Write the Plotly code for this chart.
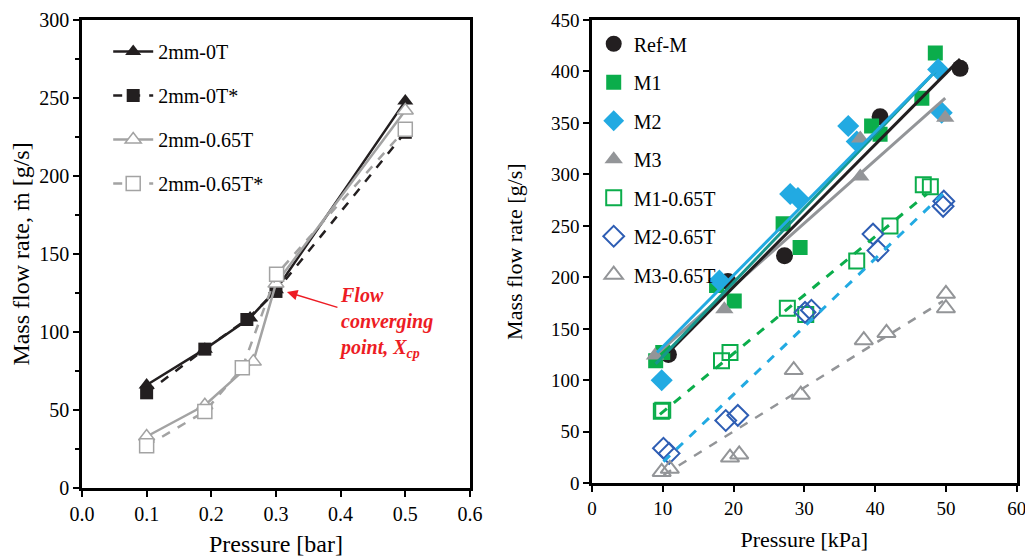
import plotly.graph_objects as go

# ---------------- Left panel data (Pressure [bar] vs mass flow rate [g/s]) -------------
a_names = ["2mm-0T", "2mm-0T*", "2mm-0.65T", "2mm-0.65T*"]
a1_x = [0.1, 0.19, 0.26, 0.3, 0.5]
a1_y = [66, 89, 109, 127, 248]
a2_x = [0.1, 0.19, 0.255, 0.3, 0.5]
a2_y = [61, 89, 108, 126, 228]
a3_x = [0.1, 0.19, 0.265, 0.3, 0.5]
a3_y = [33, 53, 81, 131, 242]
a4_x = [0.1, 0.19, 0.248, 0.301, 0.5]
a4_y = [27, 49, 77, 137, 230]

# ---------------- Right panel data (Pressure [kPa] vs mass flow rate [g/s]) -------------
refm_x = [10.8, 19.2, 27.2, 40.7, 52.0]
refm_y = [125, 196, 221, 356, 403]
m1_x = [9.0, 10.0, 17.6, 20.1, 27.0, 29.4, 39.5, 40.7, 46.6, 48.5]
m1_y = [119, 127, 192, 177, 252, 229, 347, 339, 374, 418]
m2_x = [9.85, 18.0, 28.0, 29.1, 36.2, 37.4, 48.9, 49.4]
m2_y = [100, 197, 281, 277, 347, 332, 402, 360]
m3_x = [8.9, 18.7, 37.9, 37.9, 49.9]
m3_y = [124, 169, 335, 298, 355]
m1t_x = [9.8, 10.0, 18.3, 19.5, 27.6, 30.2, 37.4, 42.1, 46.8, 47.8]
m1t_y = [70, 71, 119, 127, 170, 164, 216, 250, 290, 288]
m2t_x = [10.1, 10.9, 18.9, 20.6, 30.1, 31.0, 39.7, 40.4, 49.6, 49.7]
m2t_y = [34, 29, 61, 66, 166, 168, 242, 226, 269, 274]
m3t_x = [9.85, 11.0, 19.5, 20.8, 28.5, 29.5, 38.4, 41.6, 50.0, 50.0]
m3t_y = [11, 14, 25, 28, 110, 86, 139, 146, 184, 170]

# Linear trend lines (end points)
refm_fit_x = [10.8, 52.0]
refm_fit_y = [127, 412]
m1_fit_x = [9.0, 48.5]
m1_fit_y = [116, 400]
m2_fit_x = [9.2, 49.2]
m2_fit_y = [127, 405]
m3_fit_x = [8.6, 49.9]
m3_fit_y = [122, 374]
m1t_fit_x = [9.6, 47.3]
m1t_fit_y = [67, 281]
m2t_fit_x = [10.1, 49.7]
m2t_fit_y = [21, 282]
m3t_fit_x = [10.1, 49.6]
m3t_fit_y = [8, 177]

FONT = "Liberation Serif, DejaVu Serif, serif"
BLACK = "#231F20"
LGRAY = "#A3A3A3"
GREEN = "#0BAD4B"
BLUE = "#22AAE2"
GRAY = "#939598"
DBLUE = "#2F5EB4"
TEAL = "#17968C"
RED = "#ED1C24"

fig = go.Figure()

# ----- left panel traces -----
left_specs = [
    (a1_x, a1_y, BLACK, "solid", dict(symbol="triangle-up", size=14, color=BLACK)),
    (a2_x, a2_y, BLACK, "dash", dict(symbol="square", size=13, color=BLACK)),
    (a3_x, a3_y, LGRAY, "solid", dict(symbol="triangle-up", size=14, color="white",
                                      line=dict(color=LGRAY, width=1.5))),
    (a4_x, a4_y, LGRAY, "dash", dict(symbol="square", size=14, color="white",
                                     line=dict(color=LGRAY, width=1.5))),
]
for name, (xs, ys, col, dash, mk) in zip(a_names, left_specs):
    fig.add_trace(go.Scatter(
        x=xs, y=ys, name=name, mode="lines+markers",
        line=dict(color=col, width=2.5, dash=dash), marker=mk,
        xaxis="x", yaxis="y", legend="legend", legendgroup=name,
    ))

# ----- right panel markers -----
right_specs = [
    ("Ref-M", refm_x, refm_y, dict(symbol="circle", size=17, color=BLACK)),
    ("M1", m1_x, m1_y, dict(symbol="square", size=15, color=GREEN)),
    ("M2", m2_x, m2_y, dict(symbol="diamond", size=17, color=BLUE)),
    ("M3", m3_x, m3_y, dict(symbol="triangle-up", size=16, color=GRAY)),
    ("M1-0.65T", m1t_x, m1t_y, dict(symbol="square-open", size=15, color=GREEN,
                                     line=dict(color=GREEN, width=2))),
    ("M2-0.65T", m2t_x, m2t_y, dict(symbol="diamond-open", size=16, color=DBLUE,
                                     line=dict(color=DBLUE, width=2))),
    ("M3-0.65T", m3t_x, m3t_y, dict(symbol="triangle-up-open", size=16, color=GRAY,
                                     line=dict(color=GRAY, width=2))),
]
for name, xs, ys, mk in right_specs:
    fig.add_trace(go.Scatter(
        x=xs, y=ys, name=name, mode="markers", marker=mk,
        xaxis="x2", yaxis="y2", legend="legend2", legendgroup=name,
    ))

# ----- right panel trend lines -----
fit_specs = [
    (m3_fit_x, m3_fit_y, GRAY, "solid", 3),
    (refm_fit_x, refm_fit_y, BLACK, "solid", 3),
    (m1_fit_x, m1_fit_y, TEAL, "solid", 3),
    (m2_fit_x, m2_fit_y, BLUE, "solid", 3),
    (m1t_fit_x, m1t_fit_y, GREEN, "dash", 3),
    (m2t_fit_x, m2t_fit_y, BLUE, "dash", 3),
    (m3t_fit_x, m3t_fit_y, GRAY, "dash", 2.5),
]
for xs, ys, col, dash, w in fit_specs:
    fig.add_trace(go.Scatter(
        x=xs, y=ys, mode="lines", line=dict(color=col, width=w, dash=dash),
        xaxis="x2", yaxis="y2", showlegend=False, hoverinfo="skip",
    ))

axis_common = dict(
    showline=True, linewidth=2.5, linecolor="black", mirror=True,
    ticks="outside", ticklen=6, tickwidth=1.5, tickcolor="black",
    showgrid=False, zeroline=False, automargin=False,
    ticklabeloverflow="allow",
)

fig.update_layout(
    width=1033, height=560,
    margin=dict(l=0, r=0, t=0, b=0),
    paper_bgcolor="white", plot_bgcolor="white",
    font=dict(family=FONT, color="black"),
    xaxis=dict(domain=[0.0716, 0.4472], range=[0, 0.6], dtick=0.1, tickformat=".1f",
               anchor="y", tickfont=dict(family=FONT, size=20, color="black"),
               title=dict(text="Pressure [bar]", font=dict(family=FONT, size=24), standoff=12),
               **axis_common),
    yaxis=dict(domain=[0.1429, 0.9786], range=[0, 300], dtick=50, anchor="x",
               tickfont=dict(family=FONT, size=20, color="black"),
               minor=dict(dtick=25, ticks="outside", ticklen=4, tickwidth=1.5, tickcolor="black"),
               title=dict(text="Mass flow rate, ṁ [g/s]", font=dict(family=FONT, size=24), standoff=13),
               **axis_common),
    xaxis2=dict(domain=[0.5653, 0.9765], range=[0, 60], dtick=10, anchor="y2",
                tickfont=dict(family=FONT, size=19, color="black"),
                title=dict(text="Pressure [kPa]", font=dict(family=FONT, size=22), standoff=14),
                **axis_common),
    yaxis2=dict(domain=[0.1513, 0.9786], range=[0, 450], dtick=50, anchor="x2",
                tickfont=dict(family=FONT, size=19, color="black"),
                title=dict(text="Mass flow rate [g/s]", font=dict(family=FONT, size=22), standoff=23),
                **axis_common),
    legend=dict(x=0.097, y=0.957, xanchor="left", yanchor="top",
                bgcolor="rgba(0,0,0,0)", font=dict(family=FONT, size=20),
                tracegroupgap=15, itemwidth=40),
    legend2=dict(x=0.567, y=0.971, xanchor="left", yanchor="top",
                 bgcolor="rgba(0,0,0,0)", font=dict(family=FONT, size=20),
                 tracegroupgap=9.5, itemwidth=30),
    showlegend=True,
)

# Red label with arrow pointing to the flow converging point
fig.add_annotation(x=0.317, y=125.6, xref="x", yref="y", ax=99, ay=30,
                   showarrow=True, arrowhead=2, arrowsize=1.4, arrowwidth=1.5,
                   arrowcolor=RED, standoff=0, align="left",
                   text="<b><i>Flow<br>converging<br>point, X<sub>cp</sub></i></b>",
                   font=dict(family=FONT, size=20, color=RED))

fig.write_html("out.html")
